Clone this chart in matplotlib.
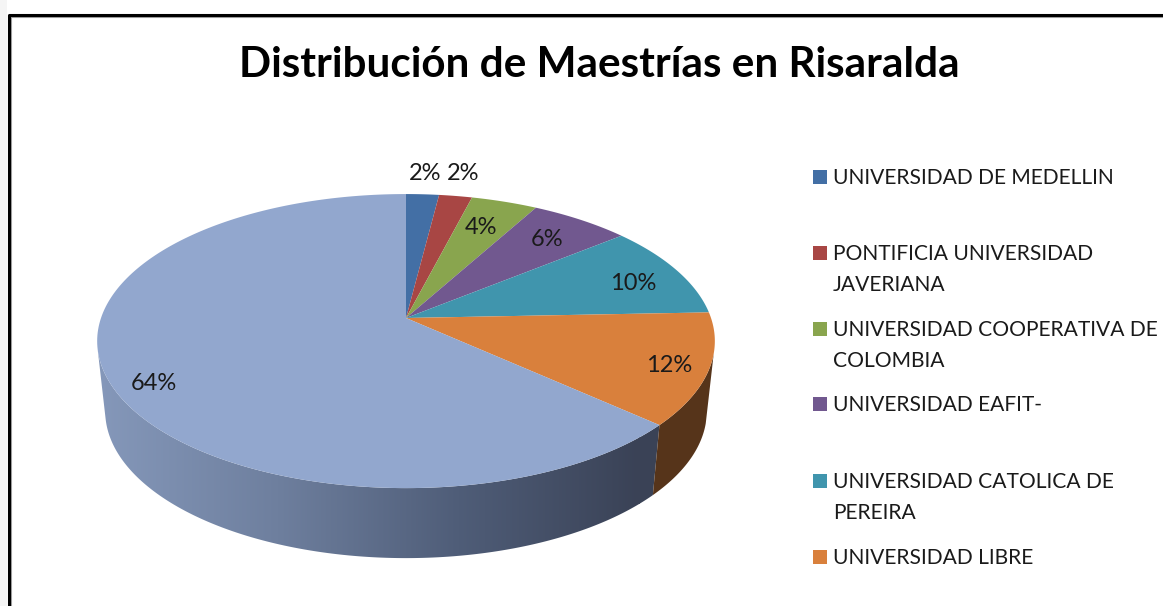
"""
Distribucion de Maestrias en Risaralda - pie with a tilted 3D look.
Saves out.png
"""
import numpy as np
import matplotlib
matplotlib.use('Agg')
import matplotlib.pyplot as plt
from matplotlib.colors import LinearSegmentedColormap
from matplotlib.patches import Polygon

categorias = ['UNIVERSIDAD DE MEDELLIN', 'PONTIFICIA UNIVERSIDAD\nJAVERIANA',
              'UNIVERSIDAD COOPERATIVA DE\nCOLOMBIA', 'UNIVERSIDAD EAFIT-',
              'UNIVERSIDAD CATOLICA DE\nPEREIRA', 'UNIVERSIDAD LIBRE']
valores = [2, 2, 4, 6, 10, 12, 64]
etiquetas = ['2%', '2%', '4%', '6%', '10%', '12%', '64%']
colores = ['#436FA5', '#A84644', '#89A54E', '#71588F', '#4095AD', '#D9803C', '#92A7CE']
titulo = 'Distribución de Maestrías en Risaralda'

W, H = 1163, 606
CX, CY = 406, 318      # pie centre on the top face
RX, RY = 305, 143.4    # radii
K = -0.157             # perspective
WARP = 0.025           # slices drift a bit on the picture's ellipse
DEPTH = 70
ENCOGE = 0.974         # lower rim is a bit narrower than the top one

plt.rcParams['font.family'] = ['Lato', 'DejaVu Sans']


def proyecta(theta):
    # theta clockwise from 12 o'clock
    theta = theta + WARP * (1 - np.cos(theta))
    u, v = np.sin(theta), -np.cos(theta)
    w = 1 + K * v
    return CX + RX * u / w, CY + RY * v / w


def pared(t0, t1):
    t = np.linspace(t0, t1, 300)
    x, y = proyecta(t)
    xb = CX + (x - CX) * ENCOGE
    yb = y + DEPTH
    return np.r_[x, xb[::-1]], np.r_[y, yb[::-1]]


fig = plt.figure(figsize=(W / 100, H / 100), dpi=100)
ax = fig.add_axes([0, 0, 1, 1])
ax.axis('off')

fracs = np.array(valores) / sum(valores)
bordes = np.concatenate([[0], np.cumsum(fracs)]) * 2 * np.pi
ini, fin = np.radians(102), np.radians(256)

# side wall: gradient on the big slice, flat brown on the orange one
px, py = pared(bordes[6], fin)
clip = Polygon(np.column_stack([px, py]), closed=True, transform=ax.transData,
               fc='none', ec='none')
ax.add_patch(clip)
cmap = LinearSegmentedColormap.from_list('lado', ['#8598BA', '#6E7F9E', '#4F5D78', '#3A4256'])
img = ax.imshow(np.linspace(0, 1, 256)[None, :], extent=(97, 640, H, 0), cmap=cmap,
                aspect='auto', zorder=1)
img.set_clip_path(clip)
# the gradient stops short of the slice edge, the rest stays at the dark end
ax.fill_betweenx([300, 600], 639, 670, color='#3A4256', lw=0, zorder=1,
                 clip_path=clip)

nx, ny = pared(ini, bordes[6])
ax.fill(nx, ny, color='#56341A', lw=0, zorder=2)

# top face
for i, val in enumerate(valores):
    t = np.linspace(bordes[i], bordes[i + 1], 200)
    x, y = proyecta(t)
    ax.fill(np.r_[CX, x], np.r_[CY, y], color=colores[i], lw=0, zorder=3)

# percent labels
pos_etq = [(425, 173), (463, 173), (481, 227), (547, 240), (633, 284), (669, 365), (154, 383)]
for (lx, ly), s in zip(pos_etq, etiquetas):
    ax.text(lx, ly, s, ha='center', va='center', fontsize=17, color='#1a1a1a', zorder=5)

ax.text(599, 65, titulo, ha='center', va='center', fontsize=30.4, fontweight='bold',
        color='black')

# legend, spaced by hand like the original
pos_ley = [177, 253, 329, 404, 481, 557]
for yy, cat, c in zip(pos_ley, categorias, colores):
    ax.add_patch(plt.Rectangle((813, yy - 7), 14, 14, color=c, lw=0))
    ax.text(833, yy - 9, cat, ha='left', va='top', fontsize=15.15, color='#1a1a1a',
            linespacing=1.66)

# frame of the chart, with its grey inner edge and the pale strip outside
ax.add_patch(plt.Rectangle((0, 0), 7, H, color='#F5F5F5', lw=0))
ax.plot([11, 11, W], [H, 16.5, 16.5], color='#A0A0A0', lw=1.5, clip_on=False)
ax.plot([8.5, 8.5, W], [H, 14.5, 14.5], color='black', lw=2.2, clip_on=False)

ax.set_xlim(0, W)
ax.set_ylim(H, 0)

fig.savefig('out.png', dpi=100, facecolor='white')
